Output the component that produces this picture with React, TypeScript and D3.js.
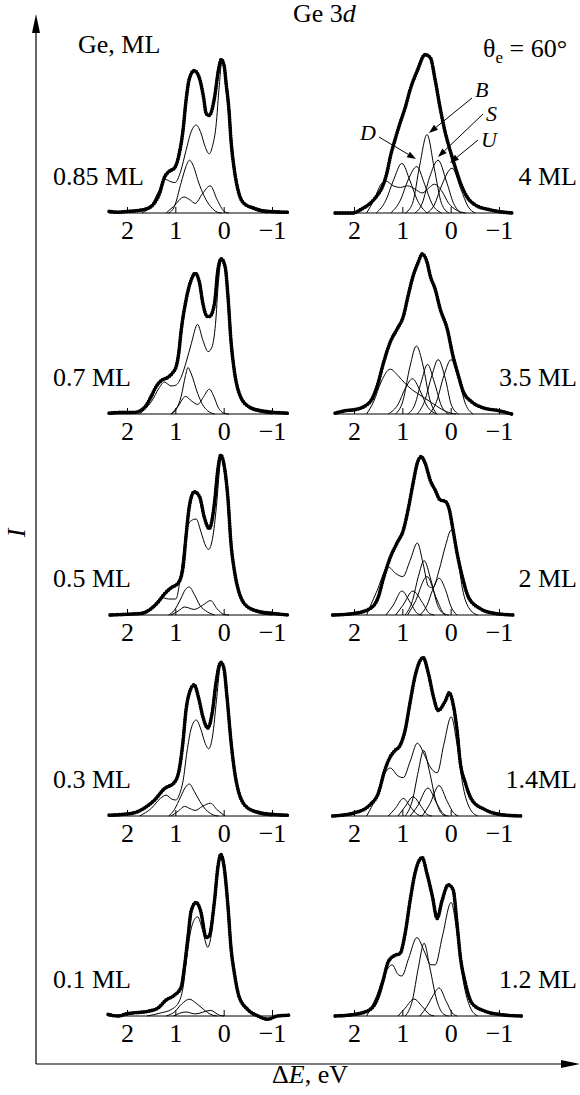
import React from "react";
import * as d3 from "d3";

type P = [number, number];

// ---------- tick values & labels ----------
const xTicks = [2, 1, 0, -1];
const leftLabels = ["0.85 ML", "0.7 ML", "0.5 ML", "0.3 ML", "0.1 ML"];
const rightLabels = ["4 ML", "3.5 ML", "2 ML", "1.4ML", "1.2 ML"];

// ---------- left column (ΔE eV, intensity %) ----------
const L085_data: P[] = [[2.38,1],[2.2,0.5],[2.0,1],[1.8,1.5],[1.57,3],[1.45,6],[1.34,12],[1.24,22],[1.14,26],[1.03,28],[0.93,37],[0.85,52],[0.79,70],[0.72,84],[0.62,89],[0.52,85],[0.43,73],[0.37,62],[0.31,61],[0.2,72],[0.12,89],[0.06,96],[0.0,92],[-0.04,81],[-0.1,64],[-0.14,46],[-0.21,27],[-0.29,14],[-0.41,6],[-0.62,3],[-0.9,1],[-1.34,0.5]];
const L085_fit: P[] = [[1.7,0],[1.5,5],[1.35,14],[1.22,21],[1.1,19.5],[1.02,19],[0.9,26],[0.79,39],[0.68,51],[0.58,55],[0.48,50],[0.4,42],[0.31,37],[0.24,42],[0.17,54],[0.1,80],[0.05,94],[0.0,92],[-0.04,81],[-0.1,64],[-0.14,46],[-0.21,27],[-0.29,14],[-0.41,6],[-0.62,2],[-0.9,0]];
const L085_c1: P[] = [[1.15,0],[1.03,4],[0.89,19],[0.79,29],[0.72,33],[0.62,28],[0.55,21],[0.45,13],[0.35,7],[0.28,4],[0.14,0.5],[0.05,0]];
const L085_c2: P[] = [[1.2,0],[1.05,4],[0.83,10],[0.7,8],[0.6,6],[0.45,12],[0.29,17],[0.14,8],[0.0,1],[-0.1,0]];

const L07_data: P[] = [[2.38,0.5],[2.1,1],[1.86,1],[1.65,4],[1.51,11],[1.41,17],[1.3,21],[1.16,23],[1.06,26],[0.99,30],[0.94,38],[0.89,52],[0.79,71],[0.68,84],[0.6,88],[0.51,82],[0.44,69],[0.35,61],[0.3,61],[0.2,69],[0.13,90],[0.06,97],[-0.02,92],[-0.08,73],[-0.14,46],[-0.21,27],[-0.31,13],[-0.49,5],[-0.77,2],[-1.34,0.5]];
const L07_fit: P[] = [[1.75,0],[1.5,8],[1.35,16],[1.24,20],[1.1,17.5],[1.0,18],[0.89,23],[0.78,33],[0.68,44],[0.55,56],[0.44,46],[0.33,39],[0.25,42],[0.18,56],[0.12,82],[0.06,96],[-0.02,92],[-0.08,73],[-0.14,46],[-0.21,27],[-0.31,13],[-0.49,4],[-0.77,1],[-1.0,0]];
const L07_c1: P[] = [[1.1,0],[0.99,3],[0.89,11],[0.8,24],[0.75,29],[0.68,25],[0.55,13],[0.45,6],[0.34,2],[0.2,0]];
const L07_c2: P[] = [[1.1,0],[0.95,5],[0.8,11],[0.67,8],[0.55,6],[0.42,11],[0.31,15.5],[0.2,10],[0.13,4.5],[0,0.5],[-0.1,0]];

const L05_data: P[] = [[2.36,0],[2.0,0.5],[1.72,1],[1.51,4],[1.37,8],[1.24,13],[1.1,17],[0.95,20],[0.85,30],[0.79,49],[0.72,68],[0.62,77],[0.51,74],[0.41,61],[0.31,54],[0.2,70],[0.13,91],[0.07,100],[0.01,95],[-0.08,72],[-0.14,45],[-0.21,28],[-0.31,14],[-0.49,5],[-0.75,2],[-1.0,1],[-1.34,0]];
const L05_fit: P[] = [[1.7,0],[1.45,6],[1.3,11],[1.15,10],[1.0,10],[0.9,25],[0.83,42],[0.77,54],[0.68,59],[0.58,60],[0.48,52],[0.38,43],[0.32,41],[0.24,48],[0.16,68],[0.1,90],[0.07,99],[0.01,95],[-0.08,72],[-0.14,45],[-0.21,28],[-0.31,14],[-0.49,5],[-0.75,1],[-1.0,0]];
const L05_c1: P[] = [[1.15,0],[1.03,3],[0.9,10],[0.8,16],[0.72,17.5],[0.62,13],[0.5,6],[0.35,2],[0.2,0]];
const L05_c2: P[] = [[1.1,0],[0.95,2.5],[0.82,5],[0.62,3.5],[0.45,6],[0.28,9],[0.15,4],[0.0,0.3],[-0.1,0]];

const L03_data: P[] = [[2.38,0.5],[2.1,1],[1.86,2],[1.65,5],[1.44,10],[1.24,17],[1.03,21],[0.93,29],[0.85,47],[0.79,66],[0.72,77],[0.62,82],[0.53,74],[0.44,62],[0.34,55],[0.24,66],[0.17,83],[0.07,96],[0.01,93],[-0.06,74],[-0.14,47],[-0.21,29],[-0.31,14],[-0.49,5],[-0.75,2],[-1.0,1],[-1.34,0.5]];
const L03_fit: P[] = [[1.75,0],[1.5,5],[1.32,11],[1.2,13],[1.08,10.5],[1.0,10],[0.92,14],[0.85,22],[0.77,40],[0.68,55],[0.58,60],[0.48,54],[0.4,46],[0.32,42],[0.24,50],[0.16,72],[0.09,92],[0.05,96],[0.01,93],[-0.06,74],[-0.14,47],[-0.21,29],[-0.31,14],[-0.49,5],[-0.75,1],[-1.0,0]];
const L03_c1: P[] = [[1.15,0],[1.03,4],[0.9,12],[0.8,18],[0.72,20],[0.62,15.5],[0.5,9],[0.38,4],[0.25,1],[0.12,0]];
const L03_c2: P[] = [[1.1,0],[0.95,3],[0.82,6],[0.7,4.5],[0.6,3.5],[0.45,6],[0.28,8],[0.15,4],[-0.02,0]];

const L01_data: P[] = [[2.4,1],[2.2,0],[2.0,1.5],[1.86,2],[1.57,3],[1.37,5],[1.2,10],[1.03,13],[0.89,18],[0.82,31],[0.75,49],[0.68,66],[0.58,71],[0.49,66],[0.37,49],[0.31,50],[0.2,72],[0.13,93],[0.07,101],[0.01,95],[-0.08,68],[-0.14,43],[-0.21,27],[-0.31,12],[-0.49,4],[-0.7,0],[-0.9,-2],[-1.1,0],[-1.34,0.5]];
const L01_fit: P[] = [[1.6,0],[1.3,2],[1.1,4],[0.95,8],[0.85,18],[0.78,35],[0.7,52],[0.6,61],[0.55,62],[0.45,54],[0.34,43],[0.26,52],[0.18,75],[0.1,96],[0.07,100],[0.01,95],[-0.08,68],[-0.14,43],[-0.21,27],[-0.31,12],[-0.49,3],[-0.7,0]];
const L01_c1: P[] = [[1.2,0],[1.03,2.5],[0.88,7.5],[0.72,10.5],[0.58,8],[0.42,4],[0.28,1],[0.15,0]];
const L01_c2: P[] = [[1.05,0],[0.79,2.5],[0.6,1.3],[0.28,3.5],[0.1,0.5],[0,0]];

// ---------- right column ----------
const R4_data: P[] = [[2.4,0],[2.03,0],[1.88,2],[1.68,6],[1.53,11],[1.43,16],[1.33,25],[1.26,35],[1.16,46],[1.06,56],[0.95,66],[0.85,77],[0.7,89],[0.54,99],[0.43,97],[0.33,83],[0.23,66],[0.12,50],[0.02,39],[-0.08,29],[-0.19,19],[-0.33,10],[-0.5,5],[-0.8,2],[-1.26,0]];
const R4_w: P[] = [[1.75,0],[1.6,8],[1.45,18],[1.35,20],[1.2,17],[1.05,16],[0.9,17],[0.75,15],[0.6,12.5],[0.45,16],[0.35,18],[0.2,14],[0.05,6],[-0.1,2],[-0.3,0]];
const R4_p1: P[] = [[1.55,0],[1.35,8],[1.2,20],[1.02,31],[0.85,20],[0.7,8],[0.5,0]];
const R4_p2: P[] = [[1.25,0],[1.05,8],[0.9,20],[0.71,29],[0.55,18],[0.4,6],[0.2,0]];
const R4_p3: P[] = [[0.95,0],[0.8,6],[0.65,30],[0.5,49],[0.35,28],[0.2,6],[0.05,0]];
const R4_p4: P[] = [[0.75,0],[0.6,6],[0.45,22],[0.27,33],[0.1,20],[-0.05,6],[-0.2,0]];
const R4_p5: P[] = [[0.5,0],[0.35,5],[0.2,17],[-0.02,28],[-0.2,15],[-0.35,4],[-0.5,0]];

const R35_data: P[] = [[2.4,0.5],[2.2,2],[1.95,3],[1.68,7.5],[1.53,17.5],[1.4,32],[1.26,45],[1.12,53],[0.99,61],[0.89,74],[0.79,86],[0.68,95],[0.6,100],[0.5,95],[0.43,86],[0.33,78],[0.23,66],[0.08,53],[-0.04,36],[-0.15,24],[-0.25,14],[-0.43,7.5],[-0.65,4],[-1.0,2],[-1.25,0]];
const R35_w: P[] = [[1.75,0],[1.6,8],[1.45,20],[1.26,28],[1.1,24],[0.95,19],[0.8,15],[0.6,11],[0.4,7],[0.2,3],[0,0.5],[-0.1,0]];
const R35_p1: P[] = [[1.15,0],[1.0,8],[0.85,30],[0.72,42.5],[0.58,30],[0.45,10],[0.3,0]];
const R35_p2: P[] = [[1.3,0],[1.1,6],[0.95,16],[0.8,22],[0.65,15],[0.5,5],[0.3,0]];
const R35_p3: P[] = [[0.9,0],[0.75,6],[0.62,20],[0.49,31],[0.35,20],[0.2,5],[0.05,0]];
const R35_p4: P[] = [[0.7,0],[0.55,8],[0.4,24],[0.27,34],[0.12,22],[0,6],[-0.15,0]];
const R35_p5: P[] = [[0.45,0],[0.3,8],[0.15,24],[0,34],[-0.15,22],[-0.3,6],[-0.45,0]];

const R2_data: P[] = [[2.45,0],[2.0,1],[1.68,4],[1.51,11],[1.41,22],[1.26,36],[1.12,45],[0.99,53],[0.89,66],[0.79,82],[0.7,95],[0.62,99],[0.54,95],[0.43,84],[0.33,78],[0.23,72],[0.12,71],[0.04,66],[-0.04,53],[-0.12,39],[-0.23,24],[-0.36,11],[-0.6,4],[-0.9,1],[-1.3,0]];
const R2_w: P[] = [[1.75,0],[1.55,14],[1.3,30],[1.15,26],[1.0,24],[0.85,34],[0.7,45],[0.58,32],[0.47,18],[0.38,17],[0.25,28],[0.12,43],[0,53],[-0.12,38],[-0.25,14],[-0.4,3],[-0.55,0]];
const R2_p1: P[] = [[1.35,0],[1.2,6],[1.02,15],[0.85,8],[0.7,1],[0.6,0]];
const R2_p2: P[] = [[1.15,0],[1.0,6],[0.79,15],[0.6,8],[0.45,1],[0.35,0]];
const R2_p3: P[] = [[0.95,0],[0.8,9],[0.68,24],[0.56,34],[0.42,22],[0.28,6],[0.12,0]];
const R2_p4: P[] = [[0.9,0],[0.75,8],[0.5,24],[0.3,10],[0.15,1],[0.05,0]];
const R2_p5: P[] = [[0.65,0],[0.5,6],[0.38,16],[0.25,23],[0.12,16],[0,5],[-0.12,0]];

const R14_data: P[] = [[2.45,0],[2.0,2],[1.68,7],[1.51,14],[1.37,29],[1.26,37],[1.16,41],[1.06,44],[0.95,54],[0.85,71],[0.75,87],[0.58,99],[0.47,89],[0.37,75],[0.27,66],[0.12,72],[0.04,77],[-0.04,70],[-0.12,54],[-0.19,33],[-0.29,21],[-0.43,10],[-0.7,4],[-1.0,1],[-1.45,0]];
const R14_w: P[] = [[1.75,0],[1.55,12],[1.4,25],[1.26,30],[1.1,25],[0.99,24],[0.85,34],[0.7,45.5],[0.55,38],[0.42,30],[0.29,27],[0.15,45],[0,62],[-0.12,45],[-0.25,18],[-0.4,4],[-0.55,0]];
const R14_p1: P[] = [[0.95,0],[0.8,10],[0.68,28],[0.57,41],[0.45,28],[0.32,10],[0.18,1],[0.1,0]];
const R14_p2: P[] = [[1.3,0],[1.15,5],[0.99,11],[0.85,6],[0.7,1],[0.6,0]];
const R14_p3: P[] = [[1.1,0],[0.95,6],[0.79,12],[0.62,6],[0.5,1],[0.4,0]];
const R14_p4: P[] = [[0.85,0],[0.7,6],[0.48,17.5],[0.3,8],[0.15,1],[0.05,0]];
const R14_p5: P[] = [[0.6,0],[0.45,7],[0.25,19],[0.08,9],[-0.05,2],[-0.15,0]];

const R12_data: P[] = [[2.4,0],[2.0,1],[1.68,4],[1.51,12],[1.41,22],[1.3,34],[1.16,38],[1.06,39],[0.95,52],[0.85,72],[0.75,89],[0.6,99],[0.5,89],[0.39,75],[0.29,61],[0.19,72],[0.06,82],[-0.04,79],[-0.12,58],[-0.19,37],[-0.29,21],[-0.43,8],[-0.7,3],[-1.0,1],[-1.45,0]];
const R12_w: P[] = [[1.75,0],[1.55,12],[1.38,26],[1.22,32],[1.1,26],[1.02,25],[0.88,36],[0.71,49],[0.55,40],[0.42,32],[0.33,32],[0.18,50],[0,71],[-0.12,52],[-0.25,22],[-0.4,5],[-0.55,0]];
const R12_p1: P[] = [[0.95,0],[0.8,10],[0.68,30],[0.56,45.5],[0.44,30],[0.3,10],[0.15,1],[0.05,0]];
const R12_p2: P[] = [[1.1,0],[0.95,5],[0.77,10.6],[0.6,6],[0.45,1],[0.35,0]];
const R12_p3: P[] = [[0.65,0],[0.5,6],[0.37,13],[0.25,17.5],[0.1,9],[-0.02,2],[-0.12,0]];

// ---------- layout ----------
const ROW_BASE = [213, 414, 615, 816, 1016];
const COL_RANGE: [number, number][] = [[127.5, 272.5], [354.5, 499.5]];
const PEAK_PX = 160;
const FONT = "'Liberation Serif', 'Times New Roman', Times, serif";
const FS = 26;
const FS_LETTER = 22;

type PanelDef = { col: number; row: number; label: string; data: P[]; comps: P[][] };

const panels: PanelDef[] = [
  { col: 0, row: 0, label: leftLabels[0], data: L085_data, comps: [L085_fit, L085_c1, L085_c2] },
  { col: 0, row: 1, label: leftLabels[1], data: L07_data, comps: [L07_fit, L07_c1, L07_c2] },
  { col: 0, row: 2, label: leftLabels[2], data: L05_data, comps: [L05_fit, L05_c1, L05_c2] },
  { col: 0, row: 3, label: leftLabels[3], data: L03_data, comps: [L03_fit, L03_c1, L03_c2] },
  { col: 0, row: 4, label: leftLabels[4], data: L01_data, comps: [L01_fit, L01_c1, L01_c2] },
  { col: 1, row: 0, label: rightLabels[0], data: R4_data, comps: [R4_w, R4_p1, R4_p2, R4_p3, R4_p4, R4_p5] },
  { col: 1, row: 1, label: rightLabels[1], data: R35_data, comps: [R35_w, R35_p1, R35_p2, R35_p3, R35_p4, R35_p5] },
  { col: 1, row: 2, label: rightLabels[2], data: R2_data, comps: [R2_w, R2_p1, R2_p2, R2_p3, R2_p4, R2_p5] },
  { col: 1, row: 3, label: rightLabels[3], data: R14_data, comps: [R14_w, R14_p1, R14_p2, R14_p3, R14_p4, R14_p5] },
  { col: 1, row: 4, label: rightLabels[4], data: R12_data, comps: [R12_w, R12_p1, R12_p2, R12_p3] },
];

function Panel({ p }: { p: PanelDef }) {
  const x = d3.scaleLinear().domain([2, -1]).range(COL_RANGE[p.col]);
  const base = ROW_BASE[p.row];
  const y = d3.scaleLinear().domain([0, 100]).range([base, base - PEAK_PX]);
  const line = d3.line<P>().x((d) => x(d[0])).y((d) => y(d[1])).curve(d3.curveMonotoneX);
  const [x0, x1] = d3.extent(p.data, (d) => d[0]) as [number, number];
  return (
    <g>
      <line x1={x(x1)} x2={x(x0)} y1={base} y2={base} stroke="#000" strokeWidth={1} />
      {xTicks.map((t) => (
        <g key={t}>
          <line x1={x(t)} x2={x(t)} y1={base} y2={base - 6} stroke="#000" strokeWidth={1} />
          <text x={x(t)} y={base + 26} textAnchor="middle" fontSize={FS} fontFamily={FONT}>
            {t < 0 ? "\u2212" + Math.abs(t) : String(t)}
          </text>
        </g>
      ))}
      {p.comps.map((c, i) => (
        <path key={i} d={line(c) || ""} fill="none" stroke="#000" strokeWidth={1} />
      ))}
      <path d={line(p.data) || ""} fill="none" stroke="#000" strokeWidth={2.6} strokeLinejoin="round" />
      <path d={line(p.data) || ""} fill="none" stroke="#000" strokeWidth={3.8} strokeLinecap="round" strokeDasharray="0 2.6" />
      <text
        x={p.col === 0 ? 53 : 577}
        y={base - 28}
        textAnchor={p.col === 0 ? "start" : "end"}
        fontSize={FS}
        fontFamily={FONT}
      >
        {p.label}
      </text>
    </g>
  );
}

function Arrow({ x1, y1, x2, y2 }: { x1: number; y1: number; x2: number; y2: number }) {
  const a = Math.atan2(y2 - y1, x2 - x1);
  const L = 9, W = 3.2;
  const bx = x2 - L * Math.cos(a), by = y2 - L * Math.sin(a);
  const px = -Math.sin(a) * W, py = Math.cos(a) * W;
  return (
    <g>
      <line x1={x1} y1={y1} x2={bx} y2={by} stroke="#000" strokeWidth={1} />
      <polygon points={`${x2},${y2} ${bx + px},${by + py} ${bx - px},${by - py}`} fill="#000" />
    </g>
  );
}

export default function App() {
  return (
    <svg
      width={580}
      height={1095}
      style={{ position: "absolute", left: 0, top: 0, background: "#fff" }}
      fontFamily={FONT}
    >
      <rect x={0} y={0} width={580} height={1095} fill="#fff" />
      {/* main axes */}
      <line x1={36} y1={1064} x2={36} y2={30} stroke="#000" strokeWidth={1.2} />
      <polygon points="36,14 32,33 40,33" fill="#000" />
      <line x1={36} y1={1064} x2={565} y2={1064} stroke="#000" strokeWidth={1.2} />
      <polygon points="580,1064 561,1060 561,1068" fill="#000" />
      <text x={25} y={533} fontSize={FS} fontStyle="italic" textAnchor="middle" transform="rotate(-90 25 533)">
        I
      </text>
      <text x={272} y={1083} fontSize={FS}>
        {"\u0394"}
        <tspan fontStyle="italic">E</tspan>
        {", eV"}
      </text>
      <text x={78} y={53} fontSize={FS}>Ge, ML</text>
      <text x={293} y={22} fontSize={FS}>
        Ge 3<tspan fontStyle="italic">d</tspan>
      </text>
      <text x={483} y={57} fontSize={FS}>
        {"\u03b8"}
        <tspan fontSize={17} dy={6}>e</tspan>
        <tspan dy={-6}>{" = 60\u00b0"}</tspan>
      </text>
      {panels.map((p, i) => (
        <Panel key={i} p={p} />
      ))}
      {/* component labels */}
      <text x={475} y={97} fontSize={FS_LETTER} fontStyle="italic">B</text>
      <text x={486} y={121} fontSize={FS_LETTER} fontStyle="italic">S</text>
      <text x={481} y={147} fontSize={FS_LETTER} fontStyle="italic">U</text>
      <text x={360} y={140} fontSize={FS_LETTER} fontStyle="italic">D</text>
      <Arrow x1={472} y1={98} x2={429} y2={133} />
      <Arrow x1={483} y1={114} x2={438} y2={157} />
      <Arrow x1={478} y1={140} x2={450} y2={163} />
      <Arrow x1={379} y1={137} x2={416} y2={159} />
    </svg>
  );
}
